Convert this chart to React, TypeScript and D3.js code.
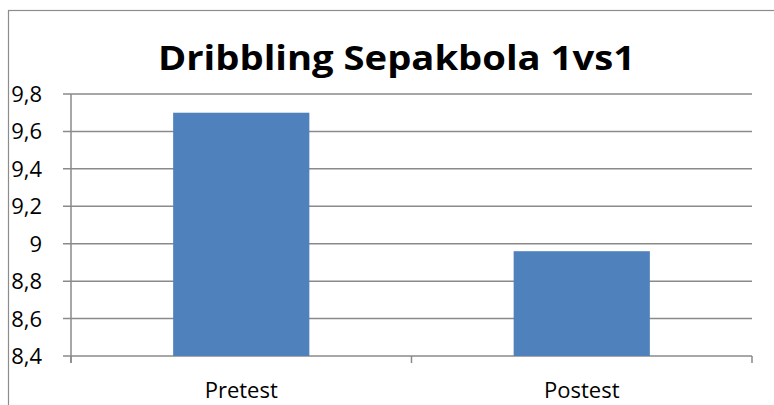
import React from "react";
import * as d3 from "d3";

const categories = ["Pretest", "Postest"];
const values = [9.7, 8.96];
const yTicks = [8.4, 8.6, 8.8, 9.0, 9.2, 9.4, 9.6, 9.8];
const title = "Dribbling Sepakbola 1vs1";

const W = 774;
const H = 405;
const plot = { left: 71, right: 752, top: 94, bottom: 356 };
const FONT = "'Open Sans', Calibri, sans-serif";

export default function App() {
  const x = d3
    .scaleBand<string>()
    .domain(categories)
    .range([plot.left, plot.right])
    .paddingInner(0.6)
    .paddingOuter(0.3);
  const y = d3.scaleLinear().domain([8.4, 9.8]).range([plot.bottom, plot.top]);
  const fmt = (v: number) => {
    const s = d3.format("~g")(+v.toFixed(1));
    return s.replace(".", ",");
  };
  const step = x.step();
  const boundaries = [plot.left, plot.left + step, plot.right];

  return (
    <svg
      width={W}
      height={H}
      style={{ position: "absolute", left: 0, top: 0, display: "block", background: "#fff" }}
    >
      <rect x={8.5} y={10.5} width={800} height={420} fill="#fff" stroke="#8c8c8c" strokeWidth={1.2} />
      <text
        x={396.5}
        y={70}
        textAnchor="middle"
        fontFamily={FONT}
        fontWeight="bold"
        fontSize={34}
        textLength={477}
        lengthAdjust="spacingAndGlyphs"
        fill="#000"
      >
        {title}
      </text>
      {yTicks.map((t) => (
        <g key={t}>
          <line
            x1={plot.left - 8}
            x2={plot.right}
            y1={y(t)}
            y2={y(t)}
            stroke="#8a8a8a"
            strokeWidth={1.5}
          />
          <text
            x={42}
            y={y(t) + 8}
            textAnchor="end"
            fontFamily={FONT}
            fontSize={22}
            fill="#000"
          >
            {fmt(t)}
          </text>
        </g>
      ))}
      <line x1={plot.left} x2={plot.left} y1={plot.top} y2={plot.bottom + 7} stroke="#8a8a8a" strokeWidth={1.5} />
      {boundaries.map((b, i) => (
        <line key={i} x1={b} x2={b} y1={plot.bottom} y2={plot.bottom + 7} stroke="#8a8a8a" strokeWidth={1.5} />
      ))}
      {categories.map((c, i) => (
        <rect
          key={c}
          x={x(c)!}
          y={y(values[i])}
          width={x.bandwidth()}
          height={plot.bottom - y(values[i])}
          fill="#4f81bd"
        />
      ))}
      {categories.map((c) => (
        <text
          key={c}
          x={x(c)! + x.bandwidth() / 2}
          y={398}
          textAnchor="middle"
          fontFamily={FONT}
          fontSize={22}
          fill="#000"
        >
          {c}
        </text>
      ))}
    </svg>
  );
}
